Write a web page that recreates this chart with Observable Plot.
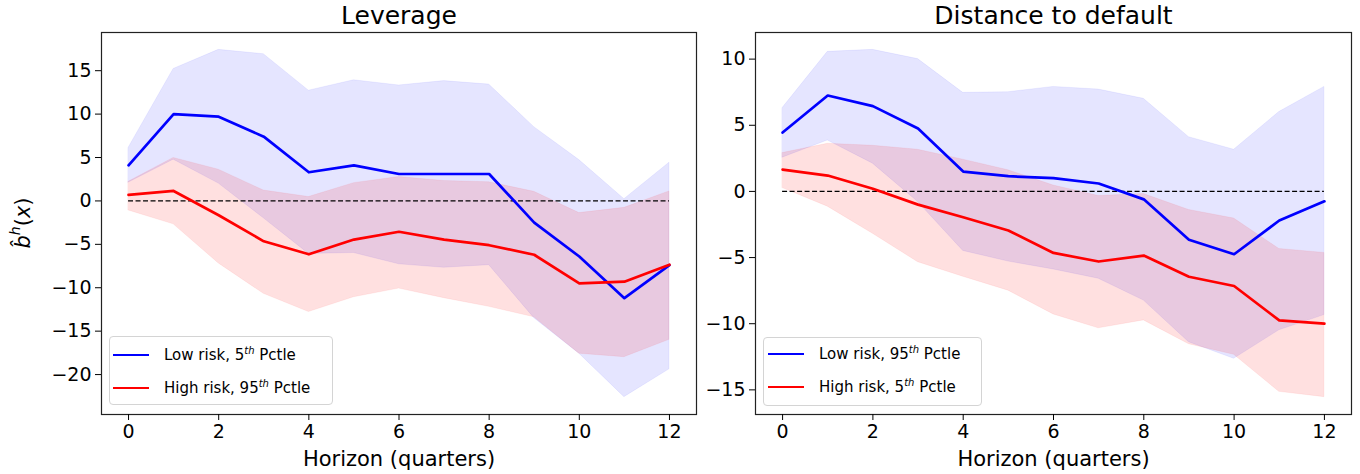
<!DOCTYPE html>
<html>
<head>
<meta charset="utf-8">
<script src="https://cdn.jsdelivr.net/npm/d3@7"></script>
<script src="https://cdn.jsdelivr.net/npm/@observablehq/plot@0.6"></script>
<style>
  html, body { margin: 0; padding: 0; background: white; }
  #fig { position: relative; width: 1360px; height: 474px; font-family: "DejaVu Sans", sans-serif; color: black; }
  #fig svg { position: absolute; top: 0; }
  .legend { position: absolute; box-sizing: border-box; border: 1px solid #d4d4d4; border-radius: 4px; background: rgba(255,255,255,0.8); font-size: 15px; }
  .legend .row { position: absolute; left: 0; right: 0; height: 20px; }
  .legend .swatch { position: absolute; top: 9px; width: 36px; height: 0; border-top: 2.5px solid; }
  .legend .lab { position: absolute; top: 0; line-height: 20px; white-space: nowrap; }
  .legend sup { font-size: 10px; font-style: italic; vertical-align: 6px; line-height: 0; }
</style>
</head>
<body>
<div id="fig"></div>
<script>
// Horizons (quarters ahead)
const horizon = [0, 1, 2, 3, 4, 5, 6, 7, 8, 9, 10, 11, 12];
const xTicks = [0, 2, 4, 6, 8, 10, 12];

// Leverage panel: point estimates and confidence bands
const levLowMid  = [4.1, 10.0, 9.7, 7.4, 3.3, 4.1, 3.1, 3.1, 3.1, -2.5, -6.4, -11.2, -7.4];
const levLowLo   = [2.1, 4.75, 2.0, -2.0, -6.1, -6.0, -7.3, -7.7, -7.4, -13.5, -17.6, -22.6, -19.4];
const levLowHi   = [6.1, 15.2, 17.4, 16.9, 12.7, 13.9, 13.3, 13.8, 13.4, 8.5, 4.7, 0.2, 4.4];
const levHighMid = [0.7, 1.15, -1.65, -4.65, -6.15, -4.45, -3.55, -4.45, -5.1, -6.2, -9.5, -9.3, -7.35];
const levHighLo  = [-1.1, -2.7, -7.2, -10.7, -12.8, -11.1, -10.1, -11.2, -12.2, -13.4, -17.6, -18.0, -16.0];
const levHighHi  = [2.2, 4.95, 3.6, 1.2, 0.45, 2.05, 2.75, 2.3, 2.15, 1.05, -1.4, -0.8, 1.1];
const levYTicks  = [-20, -15, -10, -5, 0, 5, 10, 15];

// Distance-to-default panel: point estimates and confidence bands
const dtdLowMid  = [4.45, 7.25, 6.45, 4.75, 1.5, 1.15, 1.0, 0.6, -0.6, -3.65, -4.75, -2.2, -0.75];
const dtdLowLo   = [2.55, 3.85, 2.1, -0.8, -4.5, -5.3, -5.9, -6.6, -8.25, -11.4, -12.65, -10.5, -9.35];
const dtdLowHi   = [6.3, 10.55, 10.7, 10.0, 7.45, 7.5, 7.9, 7.7, 7.0, 4.1, 3.15, 6.0, 7.9];
const dtdHighMid = [1.65, 1.2, 0.2, -1.0, -1.95, -2.95, -4.65, -5.3, -4.85, -6.45, -7.15, -9.75, -10.0];
const dtdHighLo  = [0.25, -1.15, -3.2, -5.35, -6.45, -7.5, -9.3, -10.35, -9.75, -11.55, -12.35, -15.15, -15.55];
const dtdHighHi  = [2.9, 3.6, 3.45, 3.15, 2.4, 1.6, 0.45, -0.35, -0.2, -1.4, -2.05, -4.35, -4.65];
const dtdYTicks  = [-15, -10, -5, 0, 5, 10];

const titles = ["Leverage", "Distance to default"];
const xLabel = "Horizon (quarters)";
const legendLev = [["Low risk, 5", "th", " Pctle"], ["High risk, 95", "th", " Pctle"]];
const legendDtd = [["Low risk, 95", "th", " Pctle"], ["High risk, 5", "th", " Pctle"]];

const BLUE = "#0000ff", RED = "#ff0000";
const fig = document.getElementById("fig");

function panel({title, lowMid, lowLo, lowHi, highMid, highLo, highHi, yTicks, left, width, marginLeft, marginRight}) {
  const rows = horizon.map((h, i) => ({
    h, lowMid: lowMid[i], lowLo: lowLo[i], lowHi: lowHi[i],
    highMid: highMid[i], highLo: highLo[i], highHi: highHi[i]
  }));
  // autoscale with 5% padding on each side
  const [ymin, ymax] = d3.extent([...lowLo, ...lowHi, ...highLo, ...highHi, ...lowMid, ...highMid]);
  const ypad = (ymax - ymin) * 0.05;
  const [h0, h1] = d3.extent(horizon);
  const xpad = (h1 - h0) * 0.05;

  const svg = Plot.plot({
    width, height: 474,
    marginLeft, marginRight, marginTop: 32, marginBottom: 60,
    x: {domain: [h0 - xpad, h1 + xpad]},
    y: {domain: [ymin - ypad, ymax + ypad]},
    style: {fontFamily: "DejaVu Sans", background: "white", color: "black", overflow: "visible"},
    marks: [
      Plot.areaY(rows, {x: "h", y1: "lowLo", y2: "lowHi", fill: BLUE, fillOpacity: 0.1, stroke: BLUE, strokeOpacity: 0.06}),
      Plot.areaY(rows, {x: "h", y1: "highLo", y2: "highHi", fill: RED, fillOpacity: 0.12, stroke: RED, strokeOpacity: 0.06}),
      Plot.ruleY([0], {x1: h0, x2: h1, stroke: "black", strokeWidth: 1.2, strokeDasharray: "5,2.5"}),
      Plot.lineY(rows, {x: "h", y: "lowMid", stroke: BLUE, strokeWidth: 2.7}),
      Plot.lineY(rows, {x: "h", y: "highMid", stroke: RED, strokeWidth: 2.7}),
      Plot.frame({stroke: "#222", strokeWidth: 1.2}),
      Plot.axisX({ticks: xTicks, tickSize: 6, tickPadding: 4, fontSize: 19, label: null}),
      Plot.axisY({ticks: yTicks, tickSize: 6, tickPadding: 4, fontSize: 19, label: null}),
      Plot.text([title], {frameAnchor: "top", lineAnchor: "middle", dy: -17, fontSize: 25}),
      Plot.text([xLabel], {frameAnchor: "bottom", lineAnchor: "middle", dy: 45, fontSize: 21})
    ]
  });
  svg.style.left = left + "px";
  fig.appendChild(svg);
  return svg;
}

function legend(items, box) {
  const div = document.createElement("div");
  div.className = "legend";
  Object.assign(div.style, {left: box.left + "px", top: box.top + "px", width: box.width + "px", height: box.height + "px"});
  items.forEach(([a, sup, b], i) => {
    const row = document.createElement("div");
    row.className = "row";
    row.style.top = (box.rowTop + i * 33) + "px";
    const sw = document.createElement("div");
    sw.className = "swatch";
    sw.style.left = box.swatchLeft + "px";
    sw.style.borderTopColor = i === 0 ? BLUE : RED;
    const lab = document.createElement("div");
    lab.className = "lab";
    lab.style.left = box.textLeft + "px";
    lab.innerHTML = `${a}<sup>${sup}</sup>${b}`;
    row.appendChild(sw);
    row.appendChild(lab);
    div.appendChild(row);
  });
  fig.appendChild(div);
}

const leftSvg = panel({
  title: titles[0], lowMid: levLowMid, lowLo: levLowLo, lowHi: levLowHi,
  highMid: levHighMid, highLo: levHighLo, highHi: levHighHi, yTicks: levYTicks,
  left: 0, width: 700, marginLeft: 101, marginRight: 4
});
panel({
  title: titles[1], lowMid: dtdLowMid, lowLo: dtdLowLo, lowHi: dtdLowHi,
  highMid: dtdHighMid, highLo: dtdHighLo, highHi: dtdHighHi, yTicks: dtdYTicks,
  left: 700, width: 660, marginLeft: 55, marginRight: 9
});

// y-axis label  b̂^h(x)
const yl = d3.select(leftSvg).append("text")
  .attr("transform", "translate(24,223) rotate(-90)")
  .attr("text-anchor", "middle")
  .attr("dominant-baseline", "middle")
  .attr("font-family", "DejaVu Sans")
  .attr("font-size", 21)
  .attr("fill", "black");
yl.append("tspan").attr("font-style", "italic").text("b\u0302");
yl.append("tspan").attr("font-style", "italic").attr("font-size", 14).attr("dy", -8).text("h");
yl.append("tspan").attr("dy", 8).text("(");
yl.append("tspan").attr("font-style", "italic").text("x");
yl.append("tspan").text(")");

legend(legendLev, {left: 109, top: 336, width: 224, height: 69, rowTop: 8, swatchLeft: 3, textLeft: 54});
legend(legendDtd, {left: 763, top: 337, width: 219, height: 69, rowTop: 6, swatchLeft: 4, textLeft: 55});
</script>
</body>
</html>
